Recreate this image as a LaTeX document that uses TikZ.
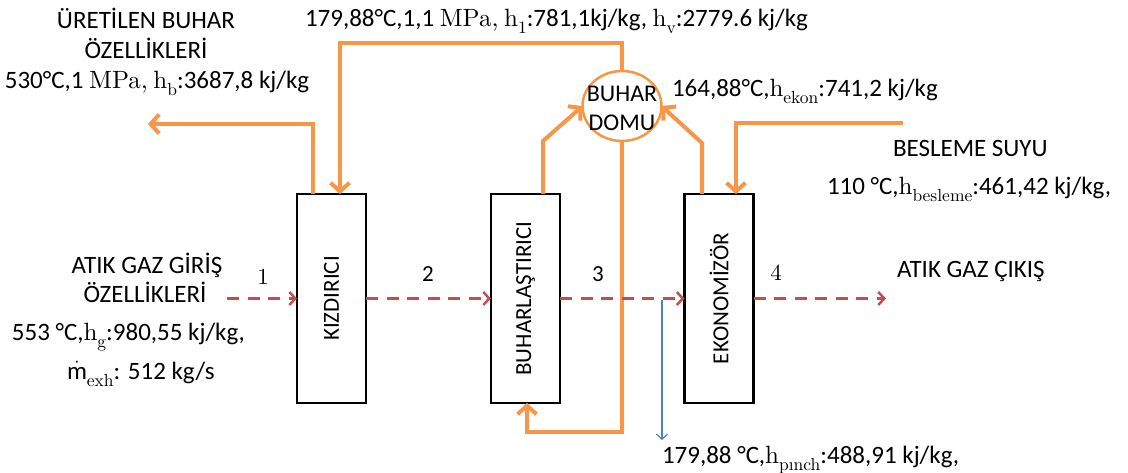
\documentclass[tikz,border=0pt]{standalone}
\usepackage{fontspec}
\setmainfont{Carlito}
\newfontfamily\lmr{lmroman10-regular}[Extension=.otf]
\usetikzlibrary{arrows.meta,shapes.geometric}
\definecolor{orng}{RGB}{247,150,70}
\definecolor{gasred}{RGB}{192,80,77}
\definecolor{pinchblue}{RGB}{79,129,189}
\newcommand{\hh}[1]{{\lmr h}\raisebox{-0.28em}{\lmr\fontsize{17.5}{17.5}\selectfont #1}}
\begin{document}
\begin{tikzpicture}[x=1pt,y=-1pt,
  every node/.style={font=\fontsize{25}{30}\selectfont, inner sep=0pt, outer sep=0pt},
  unit/.style={draw=black, line width=2.5pt, minimum width=69pt, minimum height=209pt, fill=white, font=\fontsize{23}{28}\selectfont},
  drumshape/.style={ellipse, draw=orng, line width=2.5pt, minimum width=79pt, minimum height=70pt},
  flow/.style={draw=orng, line width=4pt, -{Straight Barb[length=8.5pt,width=19pt]}},
  gas/.style={draw=gasred, line width=2.5pt, dash pattern=on 12pt off 8.5pt, -{Straight Barb[length=6pt,width=13pt]}},
  pinch/.style={draw=pinchblue, line width=1.2pt, -{Straight Barb[length=5pt,width=11pt]}},
  txt/.style={anchor=base},
  txtw/.style={anchor=base west},
  numlbl/.style={anchor=base, font=\fontsize{23}{28}\selectfont}
]
\useasboundingbox (0,0) rectangle (1128,473);

% units
\node[unit] (kiz) at (331.5,298.5) {\rotatebox{90}{KIZDIRICI}};
\node[unit] (buh) at (525.5,298.5) {\rotatebox{90}{BUHARLAŞTIRICI}};
\node[unit] (eko) at (719,298.5) {\rotatebox{90}{EKONOMİZÖR}};
\node[drumshape] (drum) at (622,106) {};
\node[align=center, font=\fontsize{24}{29}\selectfont] (drumtext) at (622,108) {BUHAR\\DOMU};

% free ends
\coordinate (steamout) at (148,124);
\coordinate (topleft) at (340,43);
\coordinate (retcorner) at (622,432);
\coordinate (feed) at (903,123);
\coordinate (gasin) at (227,298.5);
\coordinate (gasout) at (886,298.5);
\coordinate (pinchtop) at (662,300);
\coordinate (pinchbot) at (662,440);

% orange water/steam lines
\draw[flow] ([xshift=-18.5pt]kiz.north) |- (steamout);
\draw[flow] (drum.north) |- (topleft) -- (topleft |- kiz.north);
\draw[flow] ([xshift=17.5pt]buh.north) -- ++(0,-53) -- (drum.west);
\draw[flow] ([xshift=-17pt]eko.north) -- ++(0,-51) -- (drum.east);
\draw[flow] (drum.south) -- (retcorner) -| ([xshift=1.5pt]buh.south);
\draw[flow] (feed) -| ([xshift=17pt]eko.north);

% exhaust gas
\draw[gas] (gasin) -- (kiz.west);
\draw[gas] (kiz.east) -- (buh.west);
\draw[gas] (buh.east) -- (eko.west);
\draw[gas] (eko.east) -- (gasout);

% pinch
\draw[pinch] (pinchtop) -- (pinchbot);

% labels
\node[txt] (st1) at (146,28.5) {ÜRETİLEN BUHAR};
\node[txt] (st2) at (146,58.5) {ÖZELLİKLERİ};
\node[txt] (stp) at (157,89) {530°C,1 {\lmr MPa,} \hh{b}:3687,8 kj/kg};
\node[txtw] (topt) at (305,27) {179,88°C,1,1 {\lmr MPa,} \hh{1}:781,1kj/kg, \hh{v}:2779.6 kj/kg};
\node[txtw] (ekt) at (672,97) {164,88°C,\hh{ekon}:741,2 kj/kg};
\node[txtw] (bs1) at (893,156.5) {BESLEME SUYU};
\node[txtw] (bs2) at (827,194.5) {110 °C,\hh{besleme}:461,42 kj/kg,};
\node[txt] (gi1) at (147,273.5) {ATIK GAZ GİRİŞ};
\node[txt] (gi2) at (145,302.5) {ÖZELLİKLERİ};
\node[txtw] (gi3) at (12,340.5) {553 °C,\hh{g}:980,55 kj/kg,};
\node[txtw] (gi4) at (67,379) {$\dot{\mathrm{m}}$\raisebox{-0.28em}{\lmr\fontsize{17.5}{17.5}\selectfont exh}: 512 kg/s};
\node[numlbl, font=\fontsize{23}{28}\lmr] (n1) at (263,285) {1};
\node[numlbl] (n2) at (428,282) {2};
\node[numlbl] (n3) at (598,282) {3};
\node[numlbl, font=\fontsize{23}{28}\lmr] (n4) at (776,281) {4};
\node[txtw] (go) at (897,278) {ATIK GAZ ÇIKIŞ};
\node[txtw] (pt) at (662,463) {179,88 °C,\hh{pınch}:488,91 kj/kg,};
\end{tikzpicture}
\end{document}
